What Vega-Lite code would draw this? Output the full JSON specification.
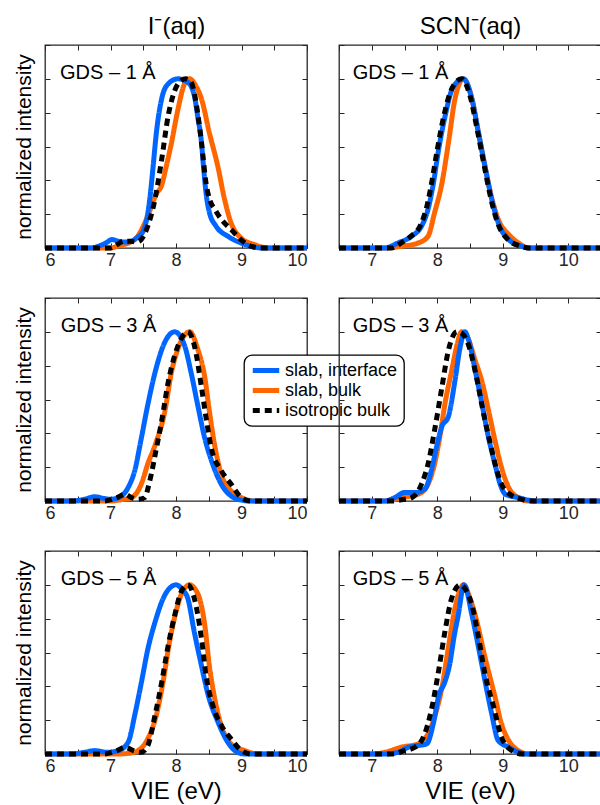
{
"$schema": "https://vega.github.io/schema/vega-lite/v6.json",
"padding": {"left": 12, "top": 13, "right": 2, "bottom": 2},
"config": {
 "font": "Liberation Sans",
 "view": {"stroke": "#262626", "strokeWidth": 1.3},
 "axis": {"grid": false, "domain": false, "tickSize": -5, "tickColor": "#262626", "tickWidth": 1, "labelFontSize": 18, "labelColor": "#262626", "labelPadding": 8, "titleFontSize": 21, "titleFontWeight": "normal", "titleColor": "#000000", "minExtent": 0},
 "legend": {"labelFontSize": 18, "labelColor": "#000000", "strokeColor": "#000000", "fillColor": "#ffffff", "cornerRadius": 8, "padding": 6, "rowPadding": 1, "symbolSize": 700, "clipHeight": 19, "labelOffset": 3, "symbolType": "stroke", "strokeWidth": 1.3},
 "line": {"interpolate": "monotone", "strokeCap": "butt"},
 "text": {"fontSize": 20, "align": "left", "baseline": "alphabetic", "color": "#000000"}
},
"datasets": {
"d": [
{"p":"I1","s":"slab, bulk","x":6,"y":0},{"p":"I1","s":"slab, bulk","x":7,"y":0},{"p":"I1","s":"slab, bulk","x":7.1,"y":0.01},{"p":"I1","s":"slab, bulk","x":7.37,"y":0.05},{"p":"I1","s":"slab, bulk","x":7.57,"y":0.19},{"p":"I1","s":"slab, bulk","x":7.7,"y":0.32},{"p":"I1","s":"slab, bulk","x":7.78,"y":0.37},{"p":"I1","s":"slab, bulk","x":7.85,"y":0.48},{"p":"I1","s":"slab, bulk","x":7.93,"y":0.62},{"p":"I1","s":"slab, bulk","x":8.03,"y":0.82},{"p":"I1","s":"slab, bulk","x":8.13,"y":0.97},{"p":"I1","s":"slab, bulk","x":8.21,"y":1.0},{"p":"I1","s":"slab, bulk","x":8.3,"y":0.96},{"p":"I1","s":"slab, bulk","x":8.39,"y":0.88},{"p":"I1","s":"slab, bulk","x":8.51,"y":0.68},{"p":"I1","s":"slab, bulk","x":8.64,"y":0.48},{"p":"I1","s":"slab, bulk","x":8.74,"y":0.29},{"p":"I1","s":"slab, bulk","x":8.84,"y":0.15},{"p":"I1","s":"slab, bulk","x":8.99,"y":0.06},{"p":"I1","s":"slab, bulk","x":9.2,"y":0.02},{"p":"I1","s":"slab, bulk","x":9.4,"y":0},{"p":"I1","s":"slab, bulk","x":10,"y":0},
{"p":"I1","s":"slab, interface","x":6,"y":0},{"p":"I1","s":"slab, interface","x":6.7,"y":0},{"p":"I1","s":"slab, interface","x":6.81,"y":0.01},{"p":"I1","s":"slab, interface","x":6.93,"y":0.03},{"p":"I1","s":"slab, interface","x":7.02,"y":0.05},{"p":"I1","s":"slab, interface","x":7.12,"y":0.04},{"p":"I1","s":"slab, interface","x":7.22,"y":0.035},{"p":"I1","s":"slab, interface","x":7.32,"y":0.04},{"p":"I1","s":"slab, interface","x":7.4,"y":0.06},{"p":"I1","s":"slab, interface","x":7.5,"y":0.1},{"p":"I1","s":"slab, interface","x":7.6,"y":0.29},{"p":"I1","s":"slab, interface","x":7.65,"y":0.48},{"p":"I1","s":"slab, interface","x":7.7,"y":0.68},{"p":"I1","s":"slab, interface","x":7.78,"y":0.88},{"p":"I1","s":"slab, interface","x":7.88,"y":0.97},{"p":"I1","s":"slab, interface","x":8.03,"y":1.0},{"p":"I1","s":"slab, interface","x":8.18,"y":0.98},{"p":"I1","s":"slab, interface","x":8.28,"y":0.9},{"p":"I1","s":"slab, interface","x":8.33,"y":0.78},{"p":"I1","s":"slab, interface","x":8.39,"y":0.62},{"p":"I1","s":"slab, interface","x":8.42,"y":0.48},{"p":"I1","s":"slab, interface","x":8.46,"y":0.32},{"p":"I1","s":"slab, interface","x":8.51,"y":0.21},{"p":"I1","s":"slab, interface","x":8.61,"y":0.13},{"p":"I1","s":"slab, interface","x":8.79,"y":0.07},{"p":"I1","s":"slab, interface","x":8.99,"y":0.03},{"p":"I1","s":"slab, interface","x":9.2,"y":0.005},{"p":"I1","s":"slab, interface","x":9.3,"y":0},{"p":"I1","s":"slab, interface","x":10,"y":0},
{"p":"I1","s":"isotropic bulk","x":6,"y":0},{"p":"I1","s":"isotropic bulk","x":7,"y":0},{"p":"I1","s":"isotropic bulk","x":7.1,"y":0.02},{"p":"I1","s":"isotropic bulk","x":7.2,"y":0.04},{"p":"I1","s":"isotropic bulk","x":7.3,"y":0.04},{"p":"I1","s":"isotropic bulk","x":7.4,"y":0.035},{"p":"I1","s":"isotropic bulk","x":7.47,"y":0.05},{"p":"I1","s":"isotropic bulk","x":7.57,"y":0.13},{"p":"I1","s":"isotropic bulk","x":7.68,"y":0.29},{"p":"I1","s":"isotropic bulk","x":7.78,"y":0.52},{"p":"I1","s":"isotropic bulk","x":7.88,"y":0.78},{"p":"I1","s":"isotropic bulk","x":7.98,"y":0.93},{"p":"I1","s":"isotropic bulk","x":8.08,"y":0.99},{"p":"I1","s":"isotropic bulk","x":8.15,"y":1.0},{"p":"I1","s":"isotropic bulk","x":8.23,"y":0.98},{"p":"I1","s":"isotropic bulk","x":8.33,"y":0.8},{"p":"I1","s":"isotropic bulk","x":8.39,"y":0.62},{"p":"I1","s":"isotropic bulk","x":8.46,"y":0.38},{"p":"I1","s":"isotropic bulk","x":8.52,"y":0.28},{"p":"I1","s":"isotropic bulk","x":8.59,"y":0.23},{"p":"I1","s":"isotropic bulk","x":8.69,"y":0.17},{"p":"I1","s":"isotropic bulk","x":8.84,"y":0.11},{"p":"I1","s":"isotropic bulk","x":8.99,"y":0.05},{"p":"I1","s":"isotropic bulk","x":9.15,"y":0.01},{"p":"I1","s":"isotropic bulk","x":9.3,"y":0},{"p":"I1","s":"isotropic bulk","x":10,"y":0},

{"p":"S1","s":"slab, bulk","x":6.5,"y":0},{"p":"S1","s":"slab, bulk","x":7.2,"y":0},{"p":"S1","s":"slab, bulk","x":7.45,"y":0.01},{"p":"S1","s":"slab, bulk","x":7.71,"y":0.03},{"p":"S1","s":"slab, bulk","x":7.86,"y":0.07},{"p":"S1","s":"slab, bulk","x":7.96,"y":0.21},{"p":"S1","s":"slab, bulk","x":8.07,"y":0.38},{"p":"S1","s":"slab, bulk","x":8.17,"y":0.62},{"p":"S1","s":"slab, bulk","x":8.27,"y":0.88},{"p":"S1","s":"slab, bulk","x":8.4,"y":1.0},{"p":"S1","s":"slab, bulk","x":8.53,"y":0.88},{"p":"S1","s":"slab, bulk","x":8.63,"y":0.68},{"p":"S1","s":"slab, bulk","x":8.73,"y":0.48},{"p":"S1","s":"slab, bulk","x":8.83,"y":0.3},{"p":"S1","s":"slab, bulk","x":8.93,"y":0.17},{"p":"S1","s":"slab, bulk","x":9.09,"y":0.08},{"p":"S1","s":"slab, bulk","x":9.24,"y":0.03},{"p":"S1","s":"slab, bulk","x":9.4,"y":0},{"p":"S1","s":"slab, bulk","x":10.5,"y":0},
{"p":"S1","s":"slab, interface","x":6.5,"y":0},{"p":"S1","s":"slab, interface","x":7.2,"y":0},{"p":"S1","s":"slab, interface","x":7.4,"y":0.03},{"p":"S1","s":"slab, interface","x":7.61,"y":0.07},{"p":"S1","s":"slab, interface","x":7.76,"y":0.13},{"p":"S1","s":"slab, interface","x":7.86,"y":0.23},{"p":"S1","s":"slab, interface","x":7.94,"y":0.38},{"p":"S1","s":"slab, interface","x":8.02,"y":0.58},{"p":"S1","s":"slab, interface","x":8.12,"y":0.78},{"p":"S1","s":"slab, interface","x":8.24,"y":0.95},{"p":"S1","s":"slab, interface","x":8.4,"y":1.0},{"p":"S1","s":"slab, interface","x":8.53,"y":0.88},{"p":"S1","s":"slab, interface","x":8.63,"y":0.68},{"p":"S1","s":"slab, interface","x":8.73,"y":0.48},{"p":"S1","s":"slab, interface","x":8.83,"y":0.29},{"p":"S1","s":"slab, interface","x":8.93,"y":0.15},{"p":"S1","s":"slab, interface","x":9.09,"y":0.05},{"p":"S1","s":"slab, interface","x":9.29,"y":0.01},{"p":"S1","s":"slab, interface","x":9.4,"y":0},{"p":"S1","s":"slab, interface","x":10.5,"y":0},
{"p":"S1","s":"isotropic bulk","x":6.5,"y":0},{"p":"S1","s":"isotropic bulk","x":7.3,"y":0},{"p":"S1","s":"isotropic bulk","x":7.45,"y":0.03},{"p":"S1","s":"isotropic bulk","x":7.6,"y":0.07},{"p":"S1","s":"isotropic bulk","x":7.75,"y":0.14},{"p":"S1","s":"isotropic bulk","x":7.85,"y":0.26},{"p":"S1","s":"isotropic bulk","x":7.93,"y":0.42},{"p":"S1","s":"isotropic bulk","x":8.0,"y":0.58},{"p":"S1","s":"isotropic bulk","x":8.1,"y":0.78},{"p":"S1","s":"isotropic bulk","x":8.22,"y":0.94},{"p":"S1","s":"isotropic bulk","x":8.37,"y":1.0},{"p":"S1","s":"isotropic bulk","x":8.5,"y":0.9},{"p":"S1","s":"isotropic bulk","x":8.62,"y":0.68},{"p":"S1","s":"isotropic bulk","x":8.72,"y":0.48},{"p":"S1","s":"isotropic bulk","x":8.82,"y":0.29},{"p":"S1","s":"isotropic bulk","x":8.92,"y":0.15},{"p":"S1","s":"isotropic bulk","x":9.08,"y":0.05},{"p":"S1","s":"isotropic bulk","x":9.28,"y":0.01},{"p":"S1","s":"isotropic bulk","x":9.4,"y":0},{"p":"S1","s":"isotropic bulk","x":10.5,"y":0},

{"p":"I3","s":"slab, bulk","x":6,"y":0},{"p":"I3","s":"slab, bulk","x":7,"y":0},{"p":"I3","s":"slab, bulk","x":7.2,"y":0.01},{"p":"I3","s":"slab, bulk","x":7.32,"y":0.02},{"p":"I3","s":"slab, bulk","x":7.47,"y":0.1},{"p":"I3","s":"slab, bulk","x":7.57,"y":0.22},{"p":"I3","s":"slab, bulk","x":7.68,"y":0.33},{"p":"I3","s":"slab, bulk","x":7.83,"y":0.53},{"p":"I3","s":"slab, bulk","x":7.93,"y":0.76},{"p":"I3","s":"slab, bulk","x":8.03,"y":0.9},{"p":"I3","s":"slab, bulk","x":8.13,"y":0.98},{"p":"I3","s":"slab, bulk","x":8.21,"y":1.0},{"p":"I3","s":"slab, bulk","x":8.33,"y":0.9},{"p":"I3","s":"slab, bulk","x":8.44,"y":0.73},{"p":"I3","s":"slab, bulk","x":8.51,"y":0.53},{"p":"I3","s":"slab, bulk","x":8.59,"y":0.33},{"p":"I3","s":"slab, bulk","x":8.69,"y":0.16},{"p":"I3","s":"slab, bulk","x":8.84,"y":0.06},{"p":"I3","s":"slab, bulk","x":9.0,"y":0.02},{"p":"I3","s":"slab, bulk","x":9.2,"y":0},{"p":"I3","s":"slab, bulk","x":10,"y":0},
{"p":"I3","s":"slab, interface","x":6,"y":0},{"p":"I3","s":"slab, interface","x":6.4,"y":0},{"p":"I3","s":"slab, interface","x":6.6,"y":0.01},{"p":"I3","s":"slab, interface","x":6.76,"y":0.025},{"p":"I3","s":"slab, interface","x":6.9,"y":0.015},{"p":"I3","s":"slab, interface","x":7.0,"y":0.01},{"p":"I3","s":"slab, interface","x":7.12,"y":0.02},{"p":"I3","s":"slab, interface","x":7.27,"y":0.08},{"p":"I3","s":"slab, interface","x":7.37,"y":0.18},{"p":"I3","s":"slab, interface","x":7.47,"y":0.37},{"p":"I3","s":"slab, interface","x":7.57,"y":0.57},{"p":"I3","s":"slab, interface","x":7.68,"y":0.76},{"p":"I3","s":"slab, interface","x":7.83,"y":0.94},{"p":"I3","s":"slab, interface","x":7.98,"y":1.0},{"p":"I3","s":"slab, interface","x":8.13,"y":0.92},{"p":"I3","s":"slab, interface","x":8.23,"y":0.76},{"p":"I3","s":"slab, interface","x":8.33,"y":0.57},{"p":"I3","s":"slab, interface","x":8.44,"y":0.37},{"p":"I3","s":"slab, interface","x":8.54,"y":0.24},{"p":"I3","s":"slab, interface","x":8.69,"y":0.1},{"p":"I3","s":"slab, interface","x":8.84,"y":0.03},{"p":"I3","s":"slab, interface","x":9.0,"y":0.005},{"p":"I3","s":"slab, interface","x":9.1,"y":0},{"p":"I3","s":"slab, interface","x":10,"y":0},
{"p":"I3","s":"isotropic bulk","x":6,"y":0},{"p":"I3","s":"isotropic bulk","x":6.9,"y":0},{"p":"I3","s":"isotropic bulk","x":7.1,"y":0.02},{"p":"I3","s":"isotropic bulk","x":7.22,"y":0.04},{"p":"I3","s":"isotropic bulk","x":7.32,"y":0.02},{"p":"I3","s":"isotropic bulk","x":7.42,"y":0.01},{"p":"I3","s":"isotropic bulk","x":7.52,"y":0.02},{"p":"I3","s":"isotropic bulk","x":7.6,"y":0.12},{"p":"I3","s":"isotropic bulk","x":7.7,"y":0.31},{"p":"I3","s":"isotropic bulk","x":7.78,"y":0.47},{"p":"I3","s":"isotropic bulk","x":7.88,"y":0.7},{"p":"I3","s":"isotropic bulk","x":7.98,"y":0.86},{"p":"I3","s":"isotropic bulk","x":8.08,"y":0.96},{"p":"I3","s":"isotropic bulk","x":8.18,"y":1.0},{"p":"I3","s":"isotropic bulk","x":8.28,"y":0.92},{"p":"I3","s":"isotropic bulk","x":8.39,"y":0.67},{"p":"I3","s":"isotropic bulk","x":8.46,"y":0.49},{"p":"I3","s":"isotropic bulk","x":8.54,"y":0.31},{"p":"I3","s":"isotropic bulk","x":8.69,"y":0.18},{"p":"I3","s":"isotropic bulk","x":8.84,"y":0.1},{"p":"I3","s":"isotropic bulk","x":9.0,"y":0.02},{"p":"I3","s":"isotropic bulk","x":9.15,"y":0},{"p":"I3","s":"isotropic bulk","x":10,"y":0},

{"p":"S3","s":"slab, bulk","x":6.5,"y":0},{"p":"S3","s":"slab, bulk","x":7.2,"y":0},{"p":"S3","s":"slab, bulk","x":7.45,"y":0.02},{"p":"S3","s":"slab, bulk","x":7.71,"y":0.04},{"p":"S3","s":"slab, bulk","x":7.86,"y":0.1},{"p":"S3","s":"slab, bulk","x":7.96,"y":0.22},{"p":"S3","s":"slab, bulk","x":8.04,"y":0.38},{"p":"S3","s":"slab, bulk","x":8.12,"y":0.58},{"p":"S3","s":"slab, bulk","x":8.22,"y":0.77},{"p":"S3","s":"slab, bulk","x":8.3,"y":0.92},{"p":"S3","s":"slab, bulk","x":8.37,"y":1.0},{"p":"S3","s":"slab, bulk","x":8.47,"y":0.96},{"p":"S3","s":"slab, bulk","x":8.58,"y":0.83},{"p":"S3","s":"slab, bulk","x":8.68,"y":0.71},{"p":"S3","s":"slab, bulk","x":8.78,"y":0.54},{"p":"S3","s":"slab, bulk","x":8.88,"y":0.36},{"p":"S3","s":"slab, bulk","x":8.98,"y":0.2},{"p":"S3","s":"slab, bulk","x":9.09,"y":0.08},{"p":"S3","s":"slab, bulk","x":9.24,"y":0.02},{"p":"S3","s":"slab, bulk","x":9.4,"y":0},{"p":"S3","s":"slab, bulk","x":10.5,"y":0},
{"p":"S3","s":"slab, interface","x":6.5,"y":0},{"p":"S3","s":"slab, interface","x":7.2,"y":0},{"p":"S3","s":"slab, interface","x":7.35,"y":0.02},{"p":"S3","s":"slab, interface","x":7.5,"y":0.05},{"p":"S3","s":"slab, interface","x":7.66,"y":0.05},{"p":"S3","s":"slab, interface","x":7.81,"y":0.07},{"p":"S3","s":"slab, interface","x":7.91,"y":0.18},{"p":"S3","s":"slab, interface","x":7.99,"y":0.32},{"p":"S3","s":"slab, interface","x":8.07,"y":0.44},{"p":"S3","s":"slab, interface","x":8.17,"y":0.5},{"p":"S3","s":"slab, interface","x":8.27,"y":0.71},{"p":"S3","s":"slab, interface","x":8.35,"y":0.91},{"p":"S3","s":"slab, interface","x":8.42,"y":1.0},{"p":"S3","s":"slab, interface","x":8.48,"y":0.95},{"p":"S3","s":"slab, interface","x":8.58,"y":0.77},{"p":"S3","s":"slab, interface","x":8.68,"y":0.58},{"p":"S3","s":"slab, interface","x":8.78,"y":0.38},{"p":"S3","s":"slab, interface","x":8.88,"y":0.22},{"p":"S3","s":"slab, interface","x":8.96,"y":0.1},{"p":"S3","s":"slab, interface","x":9.04,"y":0.04},{"p":"S3","s":"slab, interface","x":9.24,"y":0.02},{"p":"S3","s":"slab, interface","x":9.5,"y":0},{"p":"S3","s":"slab, interface","x":10.5,"y":0},
{"p":"S3","s":"isotropic bulk","x":6.5,"y":0},{"p":"S3","s":"isotropic bulk","x":7.3,"y":0},{"p":"S3","s":"isotropic bulk","x":7.5,"y":0.01},{"p":"S3","s":"isotropic bulk","x":7.61,"y":0.02},{"p":"S3","s":"isotropic bulk","x":7.76,"y":0.1},{"p":"S3","s":"isotropic bulk","x":7.86,"y":0.22},{"p":"S3","s":"isotropic bulk","x":7.96,"y":0.42},{"p":"S3","s":"isotropic bulk","x":8.07,"y":0.67},{"p":"S3","s":"isotropic bulk","x":8.17,"y":0.89},{"p":"S3","s":"isotropic bulk","x":8.3,"y":1.0},{"p":"S3","s":"isotropic bulk","x":8.38,"y":0.99},{"p":"S3","s":"isotropic bulk","x":8.47,"y":0.93},{"p":"S3","s":"isotropic bulk","x":8.6,"y":0.73},{"p":"S3","s":"isotropic bulk","x":8.7,"y":0.53},{"p":"S3","s":"isotropic bulk","x":8.81,"y":0.34},{"p":"S3","s":"isotropic bulk","x":8.91,"y":0.18},{"p":"S3","s":"isotropic bulk","x":8.98,"y":0.1},{"p":"S3","s":"isotropic bulk","x":9.11,"y":0.04},{"p":"S3","s":"isotropic bulk","x":9.29,"y":0.01},{"p":"S3","s":"isotropic bulk","x":9.4,"y":0},{"p":"S3","s":"isotropic bulk","x":10.5,"y":0},

{"p":"I5","s":"slab, bulk","x":6,"y":0},{"p":"I5","s":"slab, bulk","x":7.1,"y":0},{"p":"I5","s":"slab, bulk","x":7.3,"y":0.005},{"p":"I5","s":"slab, bulk","x":7.42,"y":0.02},{"p":"I5","s":"slab, bulk","x":7.57,"y":0.09},{"p":"I5","s":"slab, bulk","x":7.7,"y":0.23},{"p":"I5","s":"slab, bulk","x":7.8,"y":0.42},{"p":"I5","s":"slab, bulk","x":7.9,"y":0.66},{"p":"I5","s":"slab, bulk","x":8.0,"y":0.84},{"p":"I5","s":"slab, bulk","x":8.1,"y":0.96},{"p":"I5","s":"slab, bulk","x":8.21,"y":1.0},{"p":"I5","s":"slab, bulk","x":8.3,"y":0.97},{"p":"I5","s":"slab, bulk","x":8.36,"y":0.92},{"p":"I5","s":"slab, bulk","x":8.44,"y":0.76},{"p":"I5","s":"slab, bulk","x":8.51,"y":0.52},{"p":"I5","s":"slab, bulk","x":8.59,"y":0.33},{"p":"I5","s":"slab, bulk","x":8.69,"y":0.17},{"p":"I5","s":"slab, bulk","x":8.84,"y":0.06},{"p":"I5","s":"slab, bulk","x":9.05,"y":0.02},{"p":"I5","s":"slab, bulk","x":9.25,"y":0},{"p":"I5","s":"slab, bulk","x":10,"y":0},
{"p":"I5","s":"slab, interface","x":6,"y":0},{"p":"I5","s":"slab, interface","x":6.4,"y":0},{"p":"I5","s":"slab, interface","x":6.6,"y":0.01},{"p":"I5","s":"slab, interface","x":6.76,"y":0.02},{"p":"I5","s":"slab, interface","x":6.95,"y":0.01},{"p":"I5","s":"slab, interface","x":7.12,"y":0.02},{"p":"I5","s":"slab, interface","x":7.27,"y":0.07},{"p":"I5","s":"slab, interface","x":7.37,"y":0.23},{"p":"I5","s":"slab, interface","x":7.47,"y":0.42},{"p":"I5","s":"slab, interface","x":7.57,"y":0.62},{"p":"I5","s":"slab, interface","x":7.68,"y":0.78},{"p":"I5","s":"slab, interface","x":7.83,"y":0.94},{"p":"I5","s":"slab, interface","x":8.0,"y":1.0},{"p":"I5","s":"slab, interface","x":8.1,"y":0.97},{"p":"I5","s":"slab, interface","x":8.18,"y":0.92},{"p":"I5","s":"slab, interface","x":8.28,"y":0.72},{"p":"I5","s":"slab, interface","x":8.39,"y":0.52},{"p":"I5","s":"slab, interface","x":8.49,"y":0.35},{"p":"I5","s":"slab, interface","x":8.64,"y":0.19},{"p":"I5","s":"slab, interface","x":8.79,"y":0.07},{"p":"I5","s":"slab, interface","x":8.94,"y":0.01},{"p":"I5","s":"slab, interface","x":9.05,"y":0},{"p":"I5","s":"slab, interface","x":10,"y":0},
{"p":"I5","s":"isotropic bulk","x":6,"y":0},{"p":"I5","s":"isotropic bulk","x":6.9,"y":0},{"p":"I5","s":"isotropic bulk","x":7.1,"y":0.02},{"p":"I5","s":"isotropic bulk","x":7.22,"y":0.04},{"p":"I5","s":"isotropic bulk","x":7.35,"y":0.02},{"p":"I5","s":"isotropic bulk","x":7.47,"y":0.01},{"p":"I5","s":"isotropic bulk","x":7.57,"y":0.05},{"p":"I5","s":"isotropic bulk","x":7.68,"y":0.23},{"p":"I5","s":"isotropic bulk","x":7.78,"y":0.42},{"p":"I5","s":"isotropic bulk","x":7.88,"y":0.64},{"p":"I5","s":"isotropic bulk","x":7.98,"y":0.82},{"p":"I5","s":"isotropic bulk","x":8.08,"y":0.96},{"p":"I5","s":"isotropic bulk","x":8.18,"y":1.0},{"p":"I5","s":"isotropic bulk","x":8.28,"y":0.92},{"p":"I5","s":"isotropic bulk","x":8.39,"y":0.68},{"p":"I5","s":"isotropic bulk","x":8.46,"y":0.46},{"p":"I5","s":"isotropic bulk","x":8.56,"y":0.29},{"p":"I5","s":"isotropic bulk","x":8.69,"y":0.17},{"p":"I5","s":"isotropic bulk","x":8.84,"y":0.09},{"p":"I5","s":"isotropic bulk","x":9.0,"y":0.02},{"p":"I5","s":"isotropic bulk","x":9.15,"y":0},{"p":"I5","s":"isotropic bulk","x":10,"y":0},

{"p":"S5","s":"slab, bulk","x":6.5,"y":0},{"p":"S5","s":"slab, bulk","x":7.0,"y":0},{"p":"S5","s":"slab, bulk","x":7.2,"y":0.01},{"p":"S5","s":"slab, bulk","x":7.45,"y":0.04},{"p":"S5","s":"slab, bulk","x":7.71,"y":0.06},{"p":"S5","s":"slab, bulk","x":7.86,"y":0.12},{"p":"S5","s":"slab, bulk","x":7.96,"y":0.22},{"p":"S5","s":"slab, bulk","x":8.07,"y":0.39},{"p":"S5","s":"slab, bulk","x":8.17,"y":0.63},{"p":"S5","s":"slab, bulk","x":8.27,"y":0.86},{"p":"S5","s":"slab, bulk","x":8.4,"y":1.0},{"p":"S5","s":"slab, bulk","x":8.5,"y":0.92},{"p":"S5","s":"slab, bulk","x":8.58,"y":0.82},{"p":"S5","s":"slab, bulk","x":8.73,"y":0.57},{"p":"S5","s":"slab, bulk","x":8.88,"y":0.34},{"p":"S5","s":"slab, bulk","x":8.98,"y":0.18},{"p":"S5","s":"slab, bulk","x":9.09,"y":0.08},{"p":"S5","s":"slab, bulk","x":9.24,"y":0.02},{"p":"S5","s":"slab, bulk","x":9.4,"y":0},{"p":"S5","s":"slab, bulk","x":10.5,"y":0},
{"p":"S5","s":"slab, interface","x":6.5,"y":0},{"p":"S5","s":"slab, interface","x":7.2,"y":0},{"p":"S5","s":"slab, interface","x":7.4,"y":0.01},{"p":"S5","s":"slab, interface","x":7.56,"y":0.04},{"p":"S5","s":"slab, interface","x":7.71,"y":0.05},{"p":"S5","s":"slab, interface","x":7.84,"y":0.06},{"p":"S5","s":"slab, interface","x":7.94,"y":0.18},{"p":"S5","s":"slab, interface","x":8.02,"y":0.34},{"p":"S5","s":"slab, interface","x":8.12,"y":0.43},{"p":"S5","s":"slab, interface","x":8.19,"y":0.53},{"p":"S5","s":"slab, interface","x":8.26,"y":0.7},{"p":"S5","s":"slab, interface","x":8.32,"y":0.82},{"p":"S5","s":"slab, interface","x":8.41,"y":1.0},{"p":"S5","s":"slab, interface","x":8.53,"y":0.82},{"p":"S5","s":"slab, interface","x":8.63,"y":0.63},{"p":"S5","s":"slab, interface","x":8.73,"y":0.43},{"p":"S5","s":"slab, interface","x":8.83,"y":0.24},{"p":"S5","s":"slab, interface","x":8.93,"y":0.08},{"p":"S5","s":"slab, interface","x":9.09,"y":0.04},{"p":"S5","s":"slab, interface","x":9.24,"y":0.01},{"p":"S5","s":"slab, interface","x":9.35,"y":0},{"p":"S5","s":"slab, interface","x":10.5,"y":0},
{"p":"S5","s":"isotropic bulk","x":6.5,"y":0},{"p":"S5","s":"isotropic bulk","x":7.3,"y":0},{"p":"S5","s":"isotropic bulk","x":7.5,"y":0.02},{"p":"S5","s":"isotropic bulk","x":7.66,"y":0.04},{"p":"S5","s":"isotropic bulk","x":7.81,"y":0.12},{"p":"S5","s":"isotropic bulk","x":7.91,"y":0.26},{"p":"S5","s":"isotropic bulk","x":8.02,"y":0.49},{"p":"S5","s":"isotropic bulk","x":8.12,"y":0.73},{"p":"S5","s":"isotropic bulk","x":8.22,"y":0.92},{"p":"S5","s":"isotropic bulk","x":8.35,"y":1.0},{"p":"S5","s":"isotropic bulk","x":8.45,"y":0.96},{"p":"S5","s":"isotropic bulk","x":8.53,"y":0.88},{"p":"S5","s":"isotropic bulk","x":8.63,"y":0.69},{"p":"S5","s":"isotropic bulk","x":8.73,"y":0.47},{"p":"S5","s":"isotropic bulk","x":8.86,"y":0.28},{"p":"S5","s":"isotropic bulk","x":8.98,"y":0.1},{"p":"S5","s":"isotropic bulk","x":9.14,"y":0.02},{"p":"S5","s":"isotropic bulk","x":9.3,"y":0},{"p":"S5","s":"isotropic bulk","x":10.5,"y":0}
]
},
"columns": 2,
"spacing": {"row": 50, "column": 32},
"bounds": "flush",
"resolve": {"scale": {"x": "independent", "y": "independent", "color": "shared", "strokeDash": "shared", "strokeWidth": "shared"}, "legend": {"color": "independent", "strokeDash": "independent", "strokeWidth": "independent"}},
"concat": [
{
 "width": 262, "height": 203,
 "data": {"name": "d"},
 "transform": [{"filter": "datum.p == 'I1'"}],
 "layer": [
  {"transform": [{"filter": "datum.s == 'slab, bulk'"}], "mark": "line", "encoding": {
    "x": {"field": "x", "type": "quantitative", "scale": {"domain": [6, 10]}, "axis": {"orient": "bottom", "values": [6,6.5,7,7.5,8,8.5,9,9.5,10], "labelExpr": "datum.value % 1 == 0 ? format(datum.value, 'd') : ''", "title": null}},
    "y": {"field": "y", "type": "quantitative", "scale": {"domain": [0, 1.2]}, "axis": {"orient": "left", "values": [0,0.2,0.4,0.6,0.8,1,1.2], "labels": false, "title": "normalized intensity", "titlePadding": 10}},
    "color": {"field": "s", "type": "nominal", "scale": {"domain": ["slab, interface", "slab, bulk", "isotropic bulk"], "range": ["#0066ff", "#ff6600", "#000000"]}, "legend": null},
    "strokeDash": {"field": "s", "type": "nominal", "scale": {"domain": ["slab, interface", "slab, bulk", "isotropic bulk"], "range": [[1,0],[1,0],[7,5]]}, "legend": null},
    "strokeWidth": {"field": "s", "type": "nominal", "scale": {"domain": ["slab, interface", "slab, bulk", "isotropic bulk"], "range": [5,5,2.6]}, "legend": null}}},
  {"transform": [{"filter": "datum.s == 'slab, interface'"}], "mark": "line", "encoding": {
    "x": {"field": "x", "type": "quantitative", "scale": {"domain": [6, 10]}, "axis": null},
    "y": {"field": "y", "type": "quantitative", "scale": {"domain": [0, 1.2]}, "axis": null},
    "color": {"field": "s", "type": "nominal", "legend": null},
    "strokeDash": {"field": "s", "type": "nominal", "legend": null},
    "strokeWidth": {"field": "s", "type": "nominal", "legend": null}}},
  {"transform": [{"filter": "datum.s == 'isotropic bulk'"}], "mark": "line", "encoding": {
    "x": {"field": "x", "type": "quantitative", "scale": {"domain": [6, 10]}, "axis": null},
    "y": {"field": "y", "type": "quantitative", "scale": {"domain": [0, 1.2]}, "axis": null},
    "color": {"field": "s", "type": "nominal", "legend": null},
    "strokeDash": {"field": "s", "type": "nominal", "legend": null},
    "strokeWidth": {"field": "s", "type": "nominal", "legend": null}}},
  {"data": {"values": [{"t": "GDS – 1 Å"}]}, "mark": "text", "encoding": {
    "x": {"datum": 6.23, "type": "quantitative", "scale": {"domain": [6, 10]}, "axis": {"orient": "top", "values": [6,6.5,7,7.5,8,8.5,9,9.5,10], "labels": false, "title": "I⁻(aq)", "titleFontSize": 24, "titlePadding": 6}},
    "y": {"datum": 1.0, "type": "quantitative", "scale": {"domain": [0, 1.2]}, "axis": {"orient": "right", "values": [0,0.2,0.4,0.6,0.8,1,1.2], "labels": false, "title": null}},
    "text": {"field": "t"}}}
 ],
 "resolve": {"axis": {"x": "independent", "y": "independent"}}
},
{
 "width": 262, "height": 203,
 "data": {"name": "d"},
 "transform": [{"filter": "datum.p == 'S1'"}],
 "layer": [
  {"transform": [{"filter": "datum.s == 'slab, bulk'"}], "mark": "line", "encoding": {
    "x": {"field": "x", "type": "quantitative", "scale": {"domain": [6.5, 10.5]}, "axis": {"orient": "bottom", "values": [6.5,7,7.5,8,8.5,9,9.5,10,10.5], "labelExpr": "datum.value % 1 == 0 ? format(datum.value, 'd') : ''", "title": null}},
    "y": {"field": "y", "type": "quantitative", "scale": {"domain": [0, 1.2]}, "axis": {"orient": "left", "values": [0,0.2,0.4,0.6,0.8,1,1.2], "labels": false, "title": null}},
    "color": {"field": "s", "type": "nominal", "legend": null},
    "strokeDash": {"field": "s", "type": "nominal", "legend": null},
    "strokeWidth": {"field": "s", "type": "nominal", "legend": null}}},
  {"transform": [{"filter": "datum.s == 'slab, interface'"}], "mark": "line", "encoding": {
    "x": {"field": "x", "type": "quantitative", "scale": {"domain": [6.5, 10.5]}, "axis": null},
    "y": {"field": "y", "type": "quantitative", "scale": {"domain": [0, 1.2]}, "axis": null},
    "color": {"field": "s", "type": "nominal", "legend": null},
    "strokeDash": {"field": "s", "type": "nominal", "legend": null},
    "strokeWidth": {"field": "s", "type": "nominal", "legend": null}}},
  {"transform": [{"filter": "datum.s == 'isotropic bulk'"}], "mark": "line", "encoding": {
    "x": {"field": "x", "type": "quantitative", "scale": {"domain": [6.5, 10.5]}, "axis": null},
    "y": {"field": "y", "type": "quantitative", "scale": {"domain": [0, 1.2]}, "axis": null},
    "color": {"field": "s", "type": "nominal", "legend": null},
    "strokeDash": {"field": "s", "type": "nominal", "legend": null},
    "strokeWidth": {"field": "s", "type": "nominal", "legend": null}}},
  {"data": {"values": [{"t": "GDS – 1 Å"}]}, "mark": "text", "encoding": {
    "x": {"datum": 6.71, "type": "quantitative", "scale": {"domain": [6.5, 10.5]}, "axis": {"orient": "top", "values": [6.5,7,7.5,8,8.5,9,9.5,10,10.5], "labels": false, "title": "SCN⁻(aq)", "titleFontSize": 24, "titlePadding": 6}},
    "y": {"datum": 1.0, "type": "quantitative", "scale": {"domain": [0, 1.2]}, "axis": {"orient": "right", "values": [0,0.2,0.4,0.6,0.8,1,1.2], "labels": false, "title": null}},
    "text": {"field": "t"}}}
 ],
 "resolve": {"axis": {"x": "independent", "y": "independent"}}
},
{
 "width": 262, "height": 203,
 "data": {"name": "d"},
 "transform": [{"filter": "datum.p == 'I3'"}],
 "layer": [
  {"transform": [{"filter": "datum.s == 'slab, bulk'"}], "mark": "line", "encoding": {
    "x": {"field": "x", "type": "quantitative", "scale": {"domain": [6, 10]}, "axis": {"orient": "bottom", "values": [6,6.5,7,7.5,8,8.5,9,9.5,10], "labelExpr": "datum.value % 1 == 0 ? format(datum.value, 'd') : ''", "title": null}},
    "y": {"field": "y", "type": "quantitative", "scale": {"domain": [0, 1.2]}, "axis": {"orient": "left", "values": [0,0.2,0.4,0.6,0.8,1,1.2], "labels": false, "title": "normalized intensity", "titlePadding": 10}},
    "color": {"field": "s", "type": "nominal", "legend": {"orient": "none", "legendX": 199, "legendY": 57, "title": null}},
    "strokeDash": {"field": "s", "type": "nominal", "legend": {"orient": "none", "legendX": 199, "legendY": 57, "title": null}},
    "strokeWidth": {"field": "s", "type": "nominal", "legend": {"orient": "none", "legendX": 199, "legendY": 57, "title": null}}}},
  {"transform": [{"filter": "datum.s == 'slab, interface'"}], "mark": "line", "encoding": {
    "x": {"field": "x", "type": "quantitative", "scale": {"domain": [6, 10]}, "axis": null},
    "y": {"field": "y", "type": "quantitative", "scale": {"domain": [0, 1.2]}, "axis": null},
    "color": {"field": "s", "type": "nominal", "legend": null},
    "strokeDash": {"field": "s", "type": "nominal", "legend": null},
    "strokeWidth": {"field": "s", "type": "nominal", "legend": null}}},
  {"transform": [{"filter": "datum.s == 'isotropic bulk'"}], "mark": "line", "encoding": {
    "x": {"field": "x", "type": "quantitative", "scale": {"domain": [6, 10]}, "axis": null},
    "y": {"field": "y", "type": "quantitative", "scale": {"domain": [0, 1.2]}, "axis": null},
    "color": {"field": "s", "type": "nominal", "legend": null},
    "strokeDash": {"field": "s", "type": "nominal", "legend": null},
    "strokeWidth": {"field": "s", "type": "nominal", "legend": null}}},
  {"data": {"values": [{"t": "GDS – 3 Å"}]}, "mark": "text", "encoding": {
    "x": {"datum": 6.24, "type": "quantitative", "scale": {"domain": [6, 10]}, "axis": {"orient": "top", "values": [6,6.5,7,7.5,8,8.5,9,9.5,10], "labels": false, "title": null}},
    "y": {"datum": 1.0, "type": "quantitative", "scale": {"domain": [0, 1.2]}, "axis": {"orient": "right", "values": [0,0.2,0.4,0.6,0.8,1,1.2], "labels": false, "title": null}},
    "text": {"field": "t"}}}
 ],
 "resolve": {"axis": {"x": "independent", "y": "independent"}}
},
{
 "width": 262, "height": 203,
 "data": {"name": "d"},
 "transform": [{"filter": "datum.p == 'S3'"}],
 "layer": [
  {"transform": [{"filter": "datum.s == 'slab, bulk'"}], "mark": "line", "encoding": {
    "x": {"field": "x", "type": "quantitative", "scale": {"domain": [6.5, 10.5]}, "axis": {"orient": "bottom", "values": [6.5,7,7.5,8,8.5,9,9.5,10,10.5], "labelExpr": "datum.value % 1 == 0 ? format(datum.value, 'd') : ''", "title": null}},
    "y": {"field": "y", "type": "quantitative", "scale": {"domain": [0, 1.2]}, "axis": {"orient": "left", "values": [0,0.2,0.4,0.6,0.8,1,1.2], "labels": false, "title": null}},
    "color": {"field": "s", "type": "nominal", "legend": null},
    "strokeDash": {"field": "s", "type": "nominal", "legend": null},
    "strokeWidth": {"field": "s", "type": "nominal", "legend": null}}},
  {"transform": [{"filter": "datum.s == 'slab, interface'"}], "mark": "line", "encoding": {
    "x": {"field": "x", "type": "quantitative", "scale": {"domain": [6.5, 10.5]}, "axis": null},
    "y": {"field": "y", "type": "quantitative", "scale": {"domain": [0, 1.2]}, "axis": null},
    "color": {"field": "s", "type": "nominal", "legend": null},
    "strokeDash": {"field": "s", "type": "nominal", "legend": null},
    "strokeWidth": {"field": "s", "type": "nominal", "legend": null}}},
  {"transform": [{"filter": "datum.s == 'isotropic bulk'"}], "mark": "line", "encoding": {
    "x": {"field": "x", "type": "quantitative", "scale": {"domain": [6.5, 10.5]}, "axis": null},
    "y": {"field": "y", "type": "quantitative", "scale": {"domain": [0, 1.2]}, "axis": null},
    "color": {"field": "s", "type": "nominal", "legend": null},
    "strokeDash": {"field": "s", "type": "nominal", "legend": null},
    "strokeWidth": {"field": "s", "type": "nominal", "legend": null}}},
  {"data": {"values": [{"t": "GDS – 3 Å"}]}, "mark": "text", "encoding": {
    "x": {"datum": 6.71, "type": "quantitative", "scale": {"domain": [6.5, 10.5]}, "axis": {"orient": "top", "values": [6.5,7,7.5,8,8.5,9,9.5,10,10.5], "labels": false, "title": null}},
    "y": {"datum": 1.0, "type": "quantitative", "scale": {"domain": [0, 1.2]}, "axis": {"orient": "right", "values": [0,0.2,0.4,0.6,0.8,1,1.2], "labels": false, "title": null}},
    "text": {"field": "t"}}}
 ],
 "resolve": {"axis": {"x": "independent", "y": "independent"}}
},
{
 "width": 262, "height": 203,
 "data": {"name": "d"},
 "transform": [{"filter": "datum.p == 'I5'"}],
 "layer": [
  {"transform": [{"filter": "datum.s == 'slab, bulk'"}], "mark": "line", "encoding": {
    "x": {"field": "x", "type": "quantitative", "scale": {"domain": [6, 10]}, "axis": {"orient": "bottom", "values": [6,6.5,7,7.5,8,8.5,9,9.5,10], "labelExpr": "datum.value % 1 == 0 ? format(datum.value, 'd') : ''", "title": "VIE (eV)", "titleFontSize": 24, "titlePadding": 4}},
    "y": {"field": "y", "type": "quantitative", "scale": {"domain": [0, 1.2]}, "axis": {"orient": "left", "values": [0,0.2,0.4,0.6,0.8,1,1.2], "labels": false, "title": "normalized intensity", "titlePadding": 10}},
    "color": {"field": "s", "type": "nominal", "legend": null},
    "strokeDash": {"field": "s", "type": "nominal", "legend": null},
    "strokeWidth": {"field": "s", "type": "nominal", "legend": null}}},
  {"transform": [{"filter": "datum.s == 'slab, interface'"}], "mark": "line", "encoding": {
    "x": {"field": "x", "type": "quantitative", "scale": {"domain": [6, 10]}, "axis": null},
    "y": {"field": "y", "type": "quantitative", "scale": {"domain": [0, 1.2]}, "axis": null},
    "color": {"field": "s", "type": "nominal", "legend": null},
    "strokeDash": {"field": "s", "type": "nominal", "legend": null},
    "strokeWidth": {"field": "s", "type": "nominal", "legend": null}}},
  {"transform": [{"filter": "datum.s == 'isotropic bulk'"}], "mark": "line", "encoding": {
    "x": {"field": "x", "type": "quantitative", "scale": {"domain": [6, 10]}, "axis": null},
    "y": {"field": "y", "type": "quantitative", "scale": {"domain": [0, 1.2]}, "axis": null},
    "color": {"field": "s", "type": "nominal", "legend": null},
    "strokeDash": {"field": "s", "type": "nominal", "legend": null},
    "strokeWidth": {"field": "s", "type": "nominal", "legend": null}}},
  {"data": {"values": [{"t": "GDS – 5 Å"}]}, "mark": "text", "encoding": {
    "x": {"datum": 6.24, "type": "quantitative", "scale": {"domain": [6, 10]}, "axis": {"orient": "top", "values": [6,6.5,7,7.5,8,8.5,9,9.5,10], "labels": false, "title": null}},
    "y": {"datum": 1.0, "type": "quantitative", "scale": {"domain": [0, 1.2]}, "axis": {"orient": "right", "values": [0,0.2,0.4,0.6,0.8,1,1.2], "labels": false, "title": null}},
    "text": {"field": "t"}}}
 ],
 "resolve": {"axis": {"x": "independent", "y": "independent"}}
},
{
 "width": 262, "height": 203,
 "data": {"name": "d"},
 "transform": [{"filter": "datum.p == 'S5'"}],
 "layer": [
  {"transform": [{"filter": "datum.s == 'slab, bulk'"}], "mark": "line", "encoding": {
    "x": {"field": "x", "type": "quantitative", "scale": {"domain": [6.5, 10.5]}, "axis": {"orient": "bottom", "values": [6.5,7,7.5,8,8.5,9,9.5,10,10.5], "labelExpr": "datum.value % 1 == 0 ? format(datum.value, 'd') : ''", "title": "VIE (eV)", "titleFontSize": 24, "titlePadding": 4}},
    "y": {"field": "y", "type": "quantitative", "scale": {"domain": [0, 1.2]}, "axis": {"orient": "left", "values": [0,0.2,0.4,0.6,0.8,1,1.2], "labels": false, "title": null}},
    "color": {"field": "s", "type": "nominal", "legend": null},
    "strokeDash": {"field": "s", "type": "nominal", "legend": null},
    "strokeWidth": {"field": "s", "type": "nominal", "legend": null}}},
  {"transform": [{"filter": "datum.s == 'slab, interface'"}], "mark": "line", "encoding": {
    "x": {"field": "x", "type": "quantitative", "scale": {"domain": [6.5, 10.5]}, "axis": null},
    "y": {"field": "y", "type": "quantitative", "scale": {"domain": [0, 1.2]}, "axis": null},
    "color": {"field": "s", "type": "nominal", "legend": null},
    "strokeDash": {"field": "s", "type": "nominal", "legend": null},
    "strokeWidth": {"field": "s", "type": "nominal", "legend": null}}},
  {"transform": [{"filter": "datum.s == 'isotropic bulk'"}], "mark": "line", "encoding": {
    "x": {"field": "x", "type": "quantitative", "scale": {"domain": [6.5, 10.5]}, "axis": null},
    "y": {"field": "y", "type": "quantitative", "scale": {"domain": [0, 1.2]}, "axis": null},
    "color": {"field": "s", "type": "nominal", "legend": null},
    "strokeDash": {"field": "s", "type": "nominal", "legend": null},
    "strokeWidth": {"field": "s", "type": "nominal", "legend": null}}},
  {"data": {"values": [{"t": "GDS – 5 Å"}]}, "mark": "text", "encoding": {
    "x": {"datum": 6.71, "type": "quantitative", "scale": {"domain": [6.5, 10.5]}, "axis": {"orient": "top", "values": [6.5,7,7.5,8,8.5,9,9.5,10,10.5], "labels": false, "title": null}},
    "y": {"datum": 1.0, "type": "quantitative", "scale": {"domain": [0, 1.2]}, "axis": {"orient": "right", "values": [0,0.2,0.4,0.6,0.8,1,1.2], "labels": false, "title": null}},
    "text": {"field": "t"}}}
 ],
 "resolve": {"axis": {"x": "independent", "y": "independent"}}
}
]
}
